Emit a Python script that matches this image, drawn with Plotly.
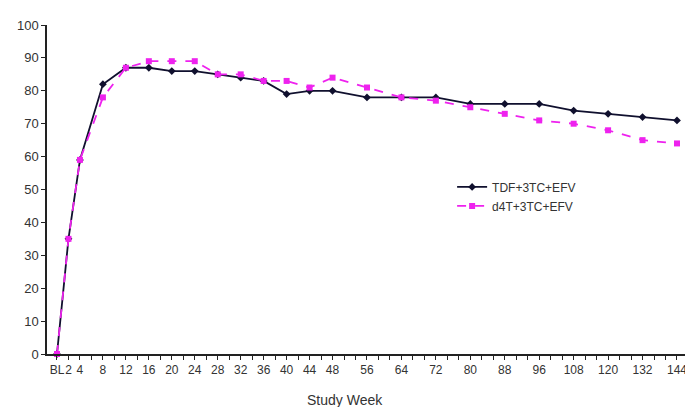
import plotly.graph_objects as go

# Study weeks with data (x categories)
weeks = ["BL", "2", "4", "8", "12", "16", "20", "24", "28", "32", "36", "40", "44", "48",
         "56", "64", "72", "80", "88", "96", "108", "120", "132", "144"]

tdf = [0, 35, 59, 82, 87, 87, 86, 86, 85, 84, 83, 79, 80, 80,
       78, 78, 78, 76, 76, 76, 74, 73, 72, 71]
d4t = [0, 35, 59, 78, 87, 89, 89, 89, 85, 85, 83, 83, 81, 84,
       81, 78, 77, 75, 73, 71, 70, 68, 65, 64]

x_title = "Study Week"

# Axis slots: unlabeled filler slots between labelled weeks (as on the original axis)
fillers_before_48 = 1   # one blank slot between 4-weekly labels
fillers_after_48 = 2    # two blank slots between later labels

cat_array, tick_text = [], []
for i, w in enumerate(weeks):
    if i > 0:
        n = 0
        if i >= 3 and int(w) <= 48:
            n = fillers_before_48
        elif i >= 3:
            n = fillers_after_48
        for k in range(n):
            cat_array.append(f"_{w}_{k}")
            tick_text.append("")
    cat_array.append(w)
    tick_text.append(w)

fig = go.Figure()
fig.add_trace(go.Scatter(
    x=weeks, y=tdf, name="TDF+3TC+EFV", mode="lines+markers",
    line=dict(color="#10102e", width=1.8),
    marker=dict(symbol="diamond", size=6, color="#10102e"),
    cliponaxis=False,
))
fig.add_trace(go.Scatter(
    x=weeks, y=d4t, name="d4T+3TC+EFV", mode="lines+markers",
    line=dict(color="#ee22ee", width=1.8, dash="dash"),
    marker=dict(symbol="square", size=6, color="#ee22ee"),
    cliponaxis=False,
))

n_slots = len(cat_array)
fig.update_layout(
    width=685, height=399,
    margin=dict(l=39, r=5, t=17, b=53),
    paper_bgcolor="white", plot_bgcolor="white",
    font=dict(family="Liberation Sans, Arial, sans-serif", size=12, color="#333333"),
    showlegend=True,
    legend=dict(x=0.632, y=0.552, xanchor="left", yanchor="top",
                bgcolor="rgba(0,0,0,0)", font=dict(size=12, color="#333333"),
                tracegroupgap=0),
    xaxis=dict(
        type="category", categoryorder="array", categoryarray=cat_array,
        tickmode="array", tickvals=cat_array, ticktext=tick_text,
        range=[-0.87, n_slots - 1 + 0.96], automargin=False,
        showgrid=False, showline=True, linecolor="#222222", linewidth=1.5,
        ticks="outside", ticklen=4, tickcolor="#222222", tickwidth=1.2,
        tickangle=0, tickfont=dict(size=12, color="#333333"),
        zeroline=False,
    ),
    yaxis=dict(
        range=[0, 100], tickmode="linear", tick0=0, dtick=10, automargin=False,
        showgrid=False, showline=True, linecolor="#222222", linewidth=1.5,
        ticks="outside", ticklen=4, tickcolor="#222222", tickwidth=1.2,
        tickfont=dict(size=13, color="#333333"), zeroline=False,
    ),
    annotations=[dict(
        text=x_title, xref="paper", yref="paper", x=0.465, y=-0.14,
        xanchor="center", yanchor="middle", showarrow=False,
        font=dict(size=14, color="#333333"),
    )],
)

fig.write_html("out.html")
